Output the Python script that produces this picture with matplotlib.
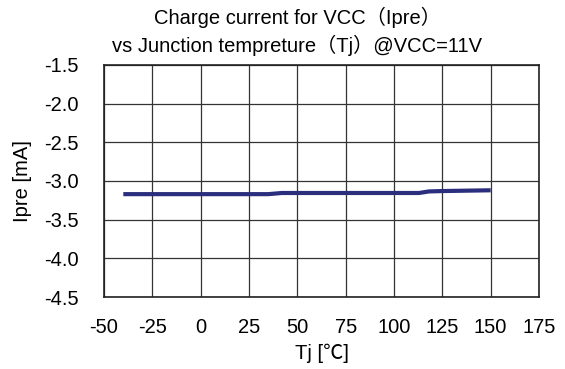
import matplotlib
matplotlib.use("Agg")
import matplotlib.pyplot as plt

# Ipre vs junction temperature, VCC = 11 V
tj = [-40, -25, 0, 25, 35, 42, 50, 75, 100, 113, 118, 125, 150]
ipre = [-3.17, -3.17, -3.17, -3.17, -3.17, -3.155, -3.155, -3.155, -3.155,
        -3.155, -3.135, -3.13, -3.12]

x_ticks = [-50, -25, 0, 25, 50, 75, 100, 125, 150, 175]
y_ticks = [-4.5, -4.0, -3.5, -3.0, -2.5, -2.0, -1.5]

plt.rcParams['font.family'] = ['Liberation Sans', 'Noto Sans CJK JP', 'DejaVu Sans']
plt.rcParams['axes.unicode_minus'] = False

fs = 14.5

fig = plt.figure(figsize=(5.65, 3.69), dpi=100)
ax = fig.add_axes([0.184, 0.195, 0.770, 0.629])

ax.plot(tj, ipre, color='#2B2E7C', lw=3.0, solid_capstyle='butt')

ax.set_xlim(-50, 175)
ax.set_ylim(-4.5, -1.5)
ax.set_xticks(x_ticks)
ax.set_yticks(y_ticks)
ax.set_yticklabels(['%.1f' % v for v in y_ticks])
ax.grid(True, color='#333333', lw=0.9)
ax.tick_params(length=0, labelsize=fs)
ax.tick_params(axis='x', pad=15)
ax.tick_params(axis='y', pad=18)
for s in ax.spines.values():
    s.set_linewidth(1.2)
    s.set_color('#222222')

ax.set_xlabel('Tj [℃]', fontsize=fs, labelpad=5)
ax.set_ylabel('Ipre [mA]', fontsize=fs, labelpad=9)

fig.text(0.526, 0.953, 'Charge current for VCC（Ipre）', ha='center', va='center', fontsize=fs)
fig.text(0.526, 0.877, 'vs Junction tempreture（Tj）@VCC=11V', ha='center', va='center', fontsize=fs)

fig.savefig('out.png', dpi=100)
